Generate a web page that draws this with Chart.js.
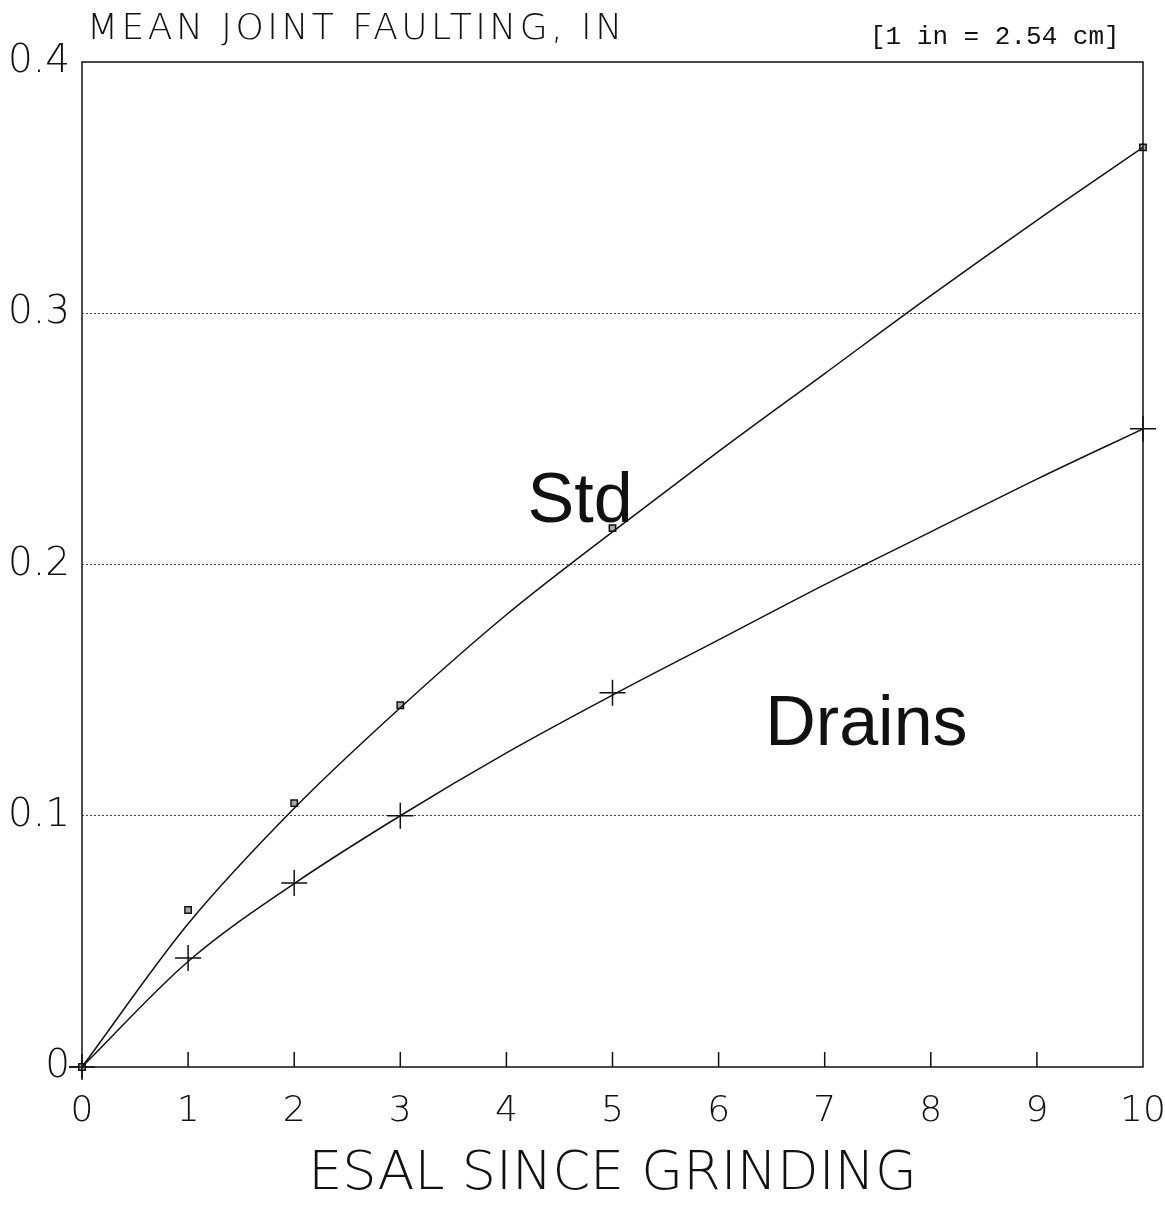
<!DOCTYPE html>
<html>
<head>
<meta charset="utf-8">
<script src="https://cdn.jsdelivr.net/npm/chart.js@4.4.1/dist/chart.umd.min.js"></script>
<style>
  body { margin: 0; background: #fff; }
  #wrap { width: 1165px; height: 1207px; }
</style>
</head>
<body>
<div id="wrap"><canvas id="chart" width="1165" height="1207"></canvas></div>
<script>
// measured points (ESAL since grinding vs mean faulting, in)
const esalPts = [0, 1, 2, 3, 5, 10];
const stdPts = [0, 0.0625, 0.105, 0.144, 0.2145, 0.366];
const drainsPts = [0, 0.0434, 0.0732, 0.1, 0.149, 0.254];

// fitted curves
const esalFit = [0, 1, 2, 3, 4, 5, 6, 7, 8, 9, 10];
const stdFit = [0, 0.057, 0.103, 0.143, 0.18, 0.213, 0.245, 0.276, 0.307, 0.337, 0.366];
const drainsFit = [0, 0.042, 0.073, 0.1, 0.125, 0.148, 0.17, 0.192, 0.213, 0.234, 0.254];

const xTicks = [0, 1, 2, 3, 4, 5, 6, 7, 8, 9, 10];
const yTicks = [0, 0.1, 0.2, 0.3, 0.4];

const thinFont = '"DejaVu Sans", sans-serif';

function toXY(xs, ys) {
  return xs.map((x, i) => ({ x: x, y: ys[i] }));
}

// frame, inward x ticks and text labels
const decorations = {
  id: 'decorations',
  afterDraw(chart) {
    const c = chart.ctx;
    const a = chart.chartArea;
    const xs = chart.scales.x, ys = chart.scales.y;
    c.save();
    c.strokeStyle = '#111';
    c.lineWidth = 1.5;
    c.strokeRect(a.left, a.top, a.right - a.left, a.bottom - a.top);

    c.beginPath();
    // y axis runs a bit past the x axis, plus a small tick at 0
    c.moveTo(a.left, a.bottom);
    c.lineTo(a.left, a.bottom + 11);
    c.moveTo(a.left - 13, a.bottom);
    c.lineTo(a.left, a.bottom);
    xTicks.forEach(v => {
      if (v === 0 || v === 10) return;
      const px = xs.getPixelForValue(v);
      c.moveTo(px, a.bottom);
      c.lineTo(px, a.bottom - 15);
    });
    c.stroke();

    c.fillStyle = '#111';
    c.textBaseline = 'alphabetic';
    c.font = '200 36px ' + thinFont;
    c.letterSpacing = '3.5px';
    c.fillText('MEAN JOINT FAULTING, IN', 87, 39);
    c.letterSpacing = '0px';

    c.font = '26px "Liberation Mono", monospace';
    c.fillText('[1 in = 2.54 cm]', 870, 44);

    c.font = '70px "Liberation Sans", Arial, sans-serif';
    c.fillText('Std', xs.getPixelForValue(4.2), ys.getPixelForValue(0.217));
    c.fillText('Drains', xs.getPixelForValue(6.44), ys.getPixelForValue(0.128));
    c.restore();
  }
};

const ctx = document.getElementById('chart').getContext('2d');
const faultChart = new Chart(ctx, {
  type: 'scatter',
  data: {
    datasets: [
      {
        label: 'Std fit',
        data: toXY(esalFit, stdFit),
        showLine: true,
        borderColor: '#111',
        borderWidth: 1.5,
        pointRadius: 0,
        cubicInterpolationMode: 'monotone',
        fill: false
      },
      {
        label: 'Drains fit',
        data: toXY(esalFit, drainsFit),
        showLine: true,
        borderColor: '#111',
        borderWidth: 1.5,
        pointRadius: 0,
        cubicInterpolationMode: 'monotone',
        fill: false
      },
      {
        label: 'Std',
        data: toXY(esalPts, stdPts),
        showLine: false,
        clip: false,
        pointStyle: 'rect',
        pointRadius: 4.5,
        borderColor: '#111',
        borderWidth: 1.5,
        backgroundColor: '#aaa'
      },
      {
        label: 'Drains',
        data: toXY(esalPts, drainsPts),
        showLine: false,
        clip: false,
        pointStyle: 'cross',
        pointRadius: 13,
        borderColor: '#111',
        borderWidth: 1.5
      }
    ]
  },
  options: {
    responsive: false,
    animation: false,
    devicePixelRatio: 1,
    layout: { padding: { top: 62, right: 22, left: 0, bottom: 0 }, autoPadding: false },
    plugins: {
      legend: { display: false },
      tooltip: { enabled: false }
    },
    scales: {
      x: {
        type: 'linear',
        min: 0,
        max: 10,
        afterBuildTicks: s => { s.ticks = xTicks.map(v => ({ value: v })); },
        afterFit: s => { s.height = 140; s.paddingLeft = 0; s.paddingRight = 0; },
        grid: { display: false, drawTicks: false },
        border: { display: false },
        ticks: {
          padding: 23,
          maxRotation: 0,
          color: '#111',
          font: { family: thinFont, size: 36, weight: 200 }
        },
        title: {
          display: true,
          text: 'ESAL SINCE GRINDING',
          color: '#111',
          padding: { top: 22, bottom: 0 },
          font: { family: thinFont, size: 54, weight: 200 }
        }
      },
      y: {
        type: 'linear',
        min: 0,
        max: 0.4,
        afterBuildTicks: s => { s.ticks = yTicks.map(v => ({ value: v })); },
        afterFit: s => { s.width = 82; s.paddingTop = 0; s.paddingBottom = 0; },
        border: { display: false, dash: [2, 2] },
        grid: {
          drawTicks: false,
          color: ctx => (ctx.tick && (ctx.tick.value === 0 || ctx.tick.value === 0.4)) ? 'rgba(0,0,0,0)' : '#444',
          lineWidth: 1
        },
        ticks: {
          padding: 12,
          color: '#111',
          font: { family: thinFont, size: 39, weight: 200 },
          callback: v => v === 0 ? '0' : v.toFixed(1)
        }
      }
    }
  },
  plugins: [decorations]
});
</script>
</body>
</html>
